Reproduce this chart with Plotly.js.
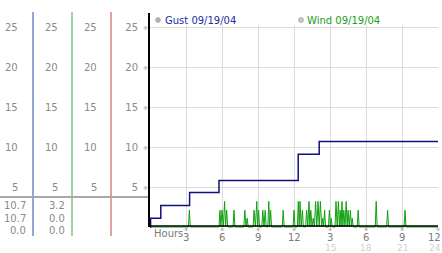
<!DOCTYPE html>
<html><head><meta charset="utf-8">
<script src="https://cdn.plot.ly/plotly-3.0.1.min.js"></script>
<style>html,body{margin:0;padding:0;background:#fff}#chart{width:442px;height:253px}</style>
</head><body><div id="chart"></div>
<script>
// ---- data ----
var gustHours = [0, 0.05, 0.9, 3.3, 5.75, 12.35, 14.1, 24];
var gustSpeed = [0, 1.1, 2.7, 4.3, 5.8, 9.1, 10.7, 10.7];

var windHours = [0,
 3.2,3.28,3.36,
 5.75,5.83,5.91,6.0,6.11,6.22,6.3,6.39,6.47,
 6.92,7.0,7.08,
 7.82,7.9,8.0,8.1,8.18,
 8.59,8.67,8.78,8.9,8.97,9.05,9.13,
 9.32,9.4,9.5,9.6,9.68,
 9.82,9.9,9.97,10.05,10.13,
 11.02,11.1,11.18,
 11.92,12.0,12.08,
 12.28,12.36,12.43,12.5,12.6,12.7,12.78,
 12.97,13.05,13.15,13.25,13.32,13.4,13.5,13.6,13.7,13.8,13.9,14.0,14.1,14.2,14.3,14.4,14.47,14.55,14.63,
 14.87,14.95,15.03,15.1,15.18,
 15.42,15.5,15.6,15.7,15.78,15.85,15.92,16.0,16.07,16.15,16.25,16.35,16.43,16.5,16.6,16.7,16.78,16.85,16.93,
 17.27,17.35,17.43,
 18.77,18.85,18.93,
 19.72,19.8,19.88,
 21.17,21.25,21.33,
 24];
var windSpeed = [0,
 0,2.1,0,
 0,2.1,0,2.1,0,3.2,0,2.1,0,
 0,2.1,0,
 0,2.1,0,1.1,0,
 0,2.1,0,3.2,0,2.1,0,
 0,2.1,0,2.1,0,
 0,3.2,0,2.1,0,
 0,2.1,0,
 0,2.1,0,
 0,3.2,0,3.2,0,2.1,0,
 0,2.1,0,3.2,0,2.1,0,1.1,0,3.2,0,3.2,0,3.2,0,1.1,0,2.1,0,
 0,2.1,0,1.1,0,
 0,3.2,0,3.2,0,2.1,0,3.2,0,2.1,0,3.2,0,2.1,0,2.1,0,1.1,0,
 0,2.1,0,
 0,3.2,0,
 0,2.1,0,
 0,2.1,0,
 0];

var yTicks = [5, 10, 15, 20, 25];
var xTickVals = [3, 6, 9, 12, 15, 18, 21, 24];
var xTickTop = ['3', '6', '9', '12', '3', '6', '9', '12'];
var xTickBottom = ['', '', '', '', '15', '18', '21', '24'];
var gustStats = ['10.7', '10.7', '0.0'];
var windStats = ['3.2', '0.0', '0.0'];
var legendNames = ['Gust 09/19/04', 'Wind 09/19/04'];

// ---- layout helpers ----
var L = 150, W = 288, T = 25, H = 206; // plot box in px
function px(x) { return (x - L) / W; }
function py(y) { return (T + H - y) / H; }
var FONT = 'DejaVu Sans, Verdana, sans-serif';
var GRAY = '#8a8a8a';
var MARK = '#9c9c9c';

var ann = [];
var statPx = [205, 218, 230.5];
var colRight = [20, 60, 99];
yTicks.forEach(function (v) {
  colRight.forEach(function (r) {
    ann.push({xref: 'paper', yref: 'y', x: px(r), y: v, xanchor: 'right', yanchor: 'middle',
      text: String(v), showarrow: false, font: {family: FONT, size: 10, color: GRAY}});
  });
  ann.push({xref: 'paper', yref: 'y', x: px(145), y: v, xanchor: 'center', yanchor: 'middle',
    text: '※', showarrow: false, font: {family: FONT, size: 6, color: MARK}});
});
gustStats.forEach(function (s, i) {
  ann.push({xref: 'paper', yref: 'paper', x: px(28), y: py(statPx[i]), xanchor: 'right', yanchor: 'middle',
    text: s, showarrow: false, font: {family: FONT, size: 10, color: GRAY}});
});
windStats.forEach(function (s, i) {
  ann.push({xref: 'paper', yref: 'paper', x: px(67), y: py(statPx[i]), xanchor: 'right', yanchor: 'middle',
    text: s, showarrow: false, font: {family: FONT, size: 10, color: GRAY}});
});
// x tick labels
xTickVals.forEach(function (v, i) {
  var last = (i === xTickVals.length - 1);
  ann.push({xref: 'x', yref: 'paper', x: v, y: py(228.5), xanchor: 'center', yanchor: 'middle',
    text: '※', showarrow: false, font: {family: FONT, size: 5, color: MARK}});
  ann.push({xref: 'x', yref: 'paper', x: v, y: py(237.5), xanchor: last ? 'right' : 'center', xshift: last ? 4 : 0,
    yanchor: 'middle', borderpad: 0,
    text: xTickTop[i], showarrow: false, font: {family: FONT, size: 10, color: '#7a7a7a'}});
  if (xTickBottom[i]) {
    ann.push({xref: 'x', yref: 'paper', x: v, y: py(247.5), xanchor: last ? 'right' : 'center', xshift: last ? 4 : 0,
      yanchor: 'middle', borderpad: 0,
      text: xTickBottom[i], showarrow: false, font: {family: FONT, size: 9, color: '#d0d0d0'}});
  }
});
ann.push({xref: 'paper', yref: 'paper', x: px(152), y: py(233), xanchor: 'left', yanchor: 'middle',
  text: 'Hours', showarrow: false, font: {family: FONT, size: 10, color: '#7a7a7a'}});
// legend
ann.push({xref: 'paper', yref: 'paper', x: px(163), y: py(20), xanchor: 'left', yanchor: 'middle',
  text: legendNames[0], showarrow: false, font: {family: FONT, size: 10, color: '#2030a0'}});
ann.push({xref: 'paper', yref: 'paper', x: px(305), y: py(20), xanchor: 'left', yanchor: 'middle',
  text: legendNames[1], showarrow: false, font: {family: FONT, size: 10, color: '#20a020'}});

var shapes = [];
[[33, '#2a4aa8'], [72, '#38a838'], [111, '#c04848']].forEach(function (c) {
  shapes.push({type: 'line', xref: 'paper', yref: 'paper', x0: px(c[0]), x1: px(c[0]), y0: py(12), y1: py(236),
    line: {color: c[1], width: 1}});
});
shapes.push({type: 'line', xref: 'paper', yref: 'paper', x0: px(0), x1: px(149), y0: py(197), y1: py(197),
  line: {color: '#a8a8a8', width: 2}});
shapes.push({type: 'line', xref: 'paper', yref: 'paper', x0: px(149), x1: px(149), y0: py(227), y1: py(13),
  line: {color: '#000', width: 2}});
shapes.push({type: 'line', xref: 'paper', yref: 'paper', x0: px(149), x1: 1, y0: py(226), y1: py(226),
  line: {color: '#000', width: 1.5}, layer: 'above'});
shapes.push({type: 'circle', xref: 'paper', yref: 'paper', x0: px(155.5), x1: px(160.5), y0: py(17.5), y1: py(22.5),
  fillcolor: '#b8b0b8', line: {color: '#9a9a9a', width: 0.5}});
shapes.push({type: 'circle', xref: 'paper', yref: 'paper', x0: px(298.5), x1: px(303.5), y0: py(17.5), y1: py(22.5),
  fillcolor: '#c8c8c8', line: {color: '#8a8a8a', width: 0.5}});

var traces = [
  {x: windHours, y: windSpeed, type: 'scatter', mode: 'lines', name: legendNames[1],
    line: {color: '#10a010', width: 1}, hoverinfo: 'skip'},
  {x: gustHours, y: gustSpeed, type: 'scatter', mode: 'lines', name: legendNames[0],
    line: {color: '#101080', width: 1.5, shape: 'hv'}, hoverinfo: 'skip'}
];

var layout = {
  width: 442, height: 253,
  margin: {l: L, r: 4, t: T, b: 253 - T - H, pad: 0},
  paper_bgcolor: '#fff', plot_bgcolor: '#fff',
  showlegend: false,
  xaxis: {range: [0, 24], tickvals: xTickVals, showticklabels: false, ticks: '',
    showgrid: true, gridcolor: '#dcdcdc', gridwidth: 1, zeroline: false, showline: false, fixedrange: true},
  yaxis: {range: [-0.5, 25.25], tickvals: yTicks, ticktext: yTicks.map(String), showticklabels: true,
    ticks: '', ticklabelstandoff: 11, tickfont: {family: FONT, size: 10, color: GRAY},
    showgrid: true, gridcolor: '#dcdcdc', gridwidth: 1, zeroline: false, showline: false, fixedrange: true},
  annotations: ann,
  shapes: shapes
};
Plotly.newPlot('chart', traces, layout, {staticPlot: true, displayModeBar: false});
</script></body></html>
